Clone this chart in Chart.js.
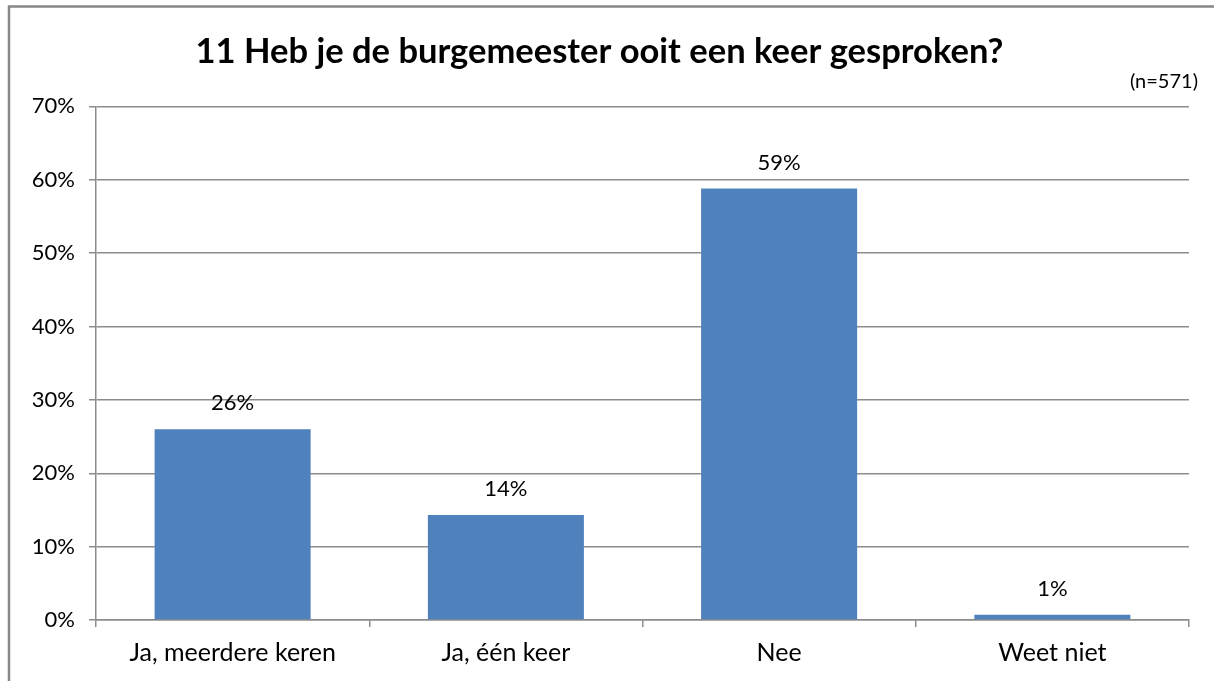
<!DOCTYPE html>
<html>
<head>
<meta charset="utf-8">
<script src="https://cdn.jsdelivr.net/npm/chart.js@4/dist/chart.umd.min.js"></script>
<style>
  html, body { margin: 0; padding: 0; background: #fff; overflow: hidden; }
  canvas { display: block; }
</style>
</head>
<body>
<canvas id="grafico" width="1214" height="681"></canvas>
<script>
const categorias = ['Ja, meerdere keren', 'Ja, één keer', 'Nee', 'Weet niet'];
const percentages = [26.0, 14.3, 58.8, 0.7];
const yTicks = [0, 10, 20, 30, 40, 50, 60, 70];
const titel = '11 Heb je de burgemeester ooit een keer gesproken?';
const aantal = '(n=571)';

const lettertype = 'Lato, "Open Sans", sans-serif';

// rand (alleen boven en links zichtbaar) + n-label + labels boven de staven
const extras = {
    id: 'extras',
    afterDraw(chart) {
        const ctx = chart.ctx;
        ctx.save();
        ctx.strokeStyle = '#878787';
        ctx.lineWidth = 2.5;
        ctx.beginPath();
        ctx.moveTo(9, chart.height);
        ctx.lineTo(9, 6.5);
        ctx.lineTo(chart.width, 6.5);
        ctx.stroke();

        ctx.fillStyle = '#000';
        ctx.font = '20px ' + lettertype;
        ctx.textAlign = 'right';
        ctx.textBaseline = 'middle';
        ctx.fillText(aantal, 1198, 82);

        ctx.font = '22px ' + lettertype;
        ctx.textAlign = 'center';
        const meta = chart.getDatasetMeta(0);
        meta.data.forEach((bar, i) => {
            ctx.fillText(Math.round(percentages[i]) + '%', bar.x, bar.y - 26);
        });
        ctx.restore();
    }
};

const ctx = document.getElementById('grafico').getContext('2d');
const grafico = new Chart(ctx, {
    type: 'bar',
    data: {
        labels: categorias,
        datasets: [{
            data: percentages,
            backgroundColor: '#4f81bd',
            borderWidth: 0,
            barPercentage: 0.571,
            categoryPercentage: 1
        }]
    },
    options: {
        responsive: false,
        animation: false,
        layout: { padding: { left: 10, right: 25, top: 0, bottom: 0 } },
        plugins: {
            legend: { display: false },
            tooltip: { enabled: false },
            title: {
                display: true,
                text: titel,
                color: '#000',
                font: { family: lettertype, size: 34.5, weight: 'bold', lineHeight: 1.2 },
                padding: { top: 31, bottom: 34 }
            }
        },
        scales: {
            x: {
                grid: {
                    offset: true,
                    drawOnChartArea: false,
                    color: '#8c8c8c',
                    lineWidth: 1.5,
                    tickLength: 7
                },
                border: { color: '#8c8c8c', width: 1.5 },
                ticks: {
                    color: '#000',
                    font: { family: lettertype, size: 25 },
                    padding: 11,
                    maxRotation: 0
                },
                afterFit(scale) { scale.height = 61; }
            },
            y: {
                min: 0,
                max: 70,
                afterBuildTicks(scale) { scale.ticks = yTicks.map(v => ({ value: v })); },
                grid: {
                    color: '#8c8c8c',
                    lineWidth: 1.5,
                    tickLength: 7
                },
                border: { color: '#8c8c8c', width: 1.5 },
                ticks: {
                    color: '#000',
                    font: { family: lettertype, size: 22 },
                    padding: 14,
                    callback: v => v + '%'
                },
                afterFit(scale) { scale.width = 86; }
            }
        }
    },
    plugins: [extras]
});
</script>
</body>
</html>
